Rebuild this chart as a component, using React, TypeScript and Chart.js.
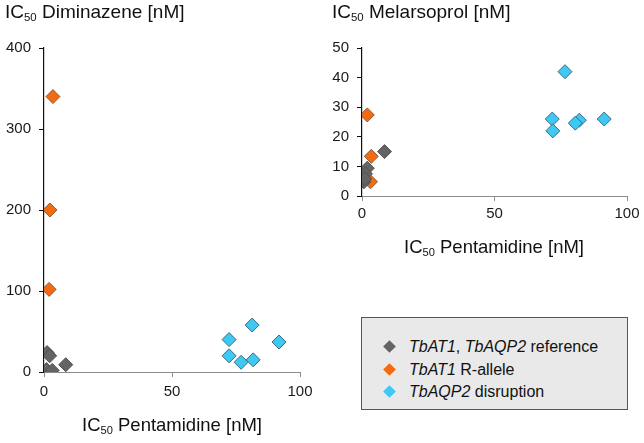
import React, { useEffect, useRef } from "react";
import { Chart, registerables } from "chart.js";

Chart.register(...registerables);

// ---- Data (IC50 values, nM) ----
// Diminazene vs Pentamidine
const dimRefPent = [1.2, 2.2, 1.0, 3.2, 8.5];
const dimRefDim = [24, 20, 3, 2, 9];
const dimRallelePent = [3.5, 2.3, 2.0];
const dimRalleleDim = [340, 200, 102];
const dimAqp2Pent = [81.3, 72.3, 91.8, 72.3, 77.0, 81.7];
const dimAqp2Dim = [58, 40, 37, 20, 12, 15];

// Melarsoprol vs Pentamidine
const melRefPent = [8.5, 2.0, 1.3, 0.7, 1.0];
const melRefMel = [15, 9.4, 7.5, 4.8, 5.8];
const melRallelePent = [2.0, 3.5, 3.2];
const melRalleleMel = [27.4, 13.4, 4.8];
const melAqp2Pent = [76.6, 71.8, 72.0, 82.0, 80.5, 91.4];
const melAqp2Mel = [42, 26, 22, 25.6, 24.6, 26];

const xTicks = [0, 50, 100];
const dimTicks = [0, 100, 200, 300, 400];
const melTicks = [0, 10, 20, 30, 40, 50];

const seriesLabels = ["TbAT1, TbAQP2 reference", "TbAT1 R-allele", "TbAQP2 disruption"];
const COLORS = [
  { fill: "#646464", border: "#505050" },
  { fill: "#f46a12", border: "#8a5a3a" },
  { fill: "#3ec8f2", border: "#386c82" },
];

const FONT = "'Liberation Sans', Arial, Helvetica, sans-serif";

function pts(xs: number[], ys: number[]) {
  return xs.map((x, i) => ({ x, y: ys[i] }));
}

function makeConfig(
  sets: { x: number[]; y: number[] }[],
  yTicks: number[],
  yWidth: number,
  xHeight: number,
  padRight: number,
  xPad: number
): any {
  const yMax = yTicks[yTicks.length - 1];
  return {
    type: "scatter",
    data: {
      datasets: sets.map((s, i) => ({
        label: seriesLabels[i],
        data: pts(s.x, s.y),
        pointStyle: "rectRot",
        pointRadius: 7,
        pointBackgroundColor: COLORS[i].fill,
        pointBorderColor: COLORS[i].border,
        pointBorderWidth: 1,
      })),
    },
    options: {
      responsive: false,
      animation: false,
      devicePixelRatio: 1,
      layout: { padding: { top: 48, right: padRight, left: 0, bottom: 0 } },
      plugins: { legend: { display: false }, tooltip: { enabled: false } },
      scales: {
        x: {
          type: "linear",
          min: xTicks[0],
          max: xTicks[xTicks.length - 1],
          afterBuildTicks: (s: any) => {
            s.ticks = xTicks.map((v) => ({ value: v }));
          },
          afterFit: (s: any) => {
            s.height = xHeight;
          },
          border: { display: true, color: "#8c8c8c", width: 1 },
          grid: { drawOnChartArea: false, drawTicks: true, tickLength: 5, color: "#8c8c8c" },
          ticks: { color: "#1a1a1a", font: { family: FONT, size: 15 }, padding: xPad, maxRotation: 0 },
        },
        y: {
          type: "linear",
          min: yTicks[0],
          max: yMax,
          afterBuildTicks: (s: any) => {
            s.ticks = yTicks.map((v) => ({ value: v }));
          },
          afterFit: (s: any) => {
            s.width = yWidth;
          },
          border: { display: true, color: "#111", width: 1.2 },
          grid: { drawOnChartArea: false, drawTicks: true, tickLength: 5, color: "#111" },
          ticks: { color: "#1a1a1a", font: { family: FONT, size: 15 }, padding: 8 },
        },
      },
    },
  };
}

function ChartCanvas(props: { config: any; left: number; top: number; width: number; height: number }) {
  const ref = useRef<HTMLCanvasElement | null>(null);
  useEffect(() => {
    if (!ref.current) return;
    const chart = new Chart(ref.current, props.config);
    return () => chart.destroy();
  }, []);
  return (
    <canvas
      ref={ref}
      width={props.width}
      height={props.height}
      style={{ position: "absolute", left: props.left, top: props.top, width: props.width, height: props.height }}
    />
  );
}

function IC50(props: { rest: string }) {
  return (
    <span>
      IC
      <span style={{ fontSize: "0.6em", position: "relative", top: "0.3em" }}>50</span> {props.rest}
    </span>
  );
}

function Diamond(props: { color: string }) {
  return (
    <span
      style={{
        display: "inline-block",
        width: 9,
        height: 9,
        background: props.color,
        transform: "rotate(45deg)",
        position: "absolute",
        left: 23,
        top: 6,
      }}
    />
  );
}

export default function App() {
  const leftCfg = makeConfig(
    [
      { x: dimRefPent, y: dimRefDim },
      { x: dimRallelePent, y: dimRalleleDim },
      { x: dimAqp2Pent, y: dimAqp2Dim },
    ],
    dimTicks,
    44,
    71,
    20,
    6
  );
  const rightCfg = makeConfig(
    [
      { x: melRefPent, y: melRefMel },
      { x: melRallelePent, y: melRalleleMel },
      { x: melAqp2Pent, y: melAqp2Mel },
    ],
    melTicks,
    42,
    64,
    17,
    4
  );

  const titleStyle: React.CSSProperties = {
    position: "absolute",
    fontFamily: FONT,
    fontSize: 19,
    lineHeight: "20px",
    color: "#111",
    whiteSpace: "nowrap",
  };
  const axisTitleStyle: React.CSSProperties = {
    position: "absolute",
    fontFamily: FONT,
    fontSize: 18.5,
    lineHeight: "20px",
    color: "#111",
    whiteSpace: "nowrap",
    transform: "translateX(-50%)",
  };
  const legendItem: React.CSSProperties = {
    position: "relative",
    height: 22.5,
    lineHeight: "22px",
    paddingLeft: 47,
    whiteSpace: "nowrap",
  };

  return (
    <div style={{ position: "fixed", left: 0, top: 0, width: 644, height: 443, background: "#fff", overflow: "hidden" }}>
      <ChartCanvas config={leftCfg} left={0} top={0} width={320} height={443} />
      <ChartCanvas config={rightCfg} left={320} top={0} width={324} height={260} />

      <div style={{ ...titleStyle, left: 5, top: 2 }}>
        <IC50 rest="Diminazene [nM]" />
      </div>
      <div style={{ ...titleStyle, left: 332, top: 2 }}>
        <IC50 rest="Melarsoprol [nM]" />
      </div>
      <div style={{ ...axisTitleStyle, left: 172, top: 415 }}>
        <IC50 rest="Pentamidine [nM]" />
      </div>
      <div style={{ ...axisTitleStyle, left: 494, top: 237 }}>
        <IC50 rest="Pentamidine [nM]" />
      </div>

      <div
        style={{
          position: "absolute",
          left: 361,
          top: 317,
          width: 265,
          height: 91,
          background: "#e9e9e9",
          border: "1px solid #555",
          fontFamily: FONT,
          fontSize: 16,
          color: "#111",
          boxSizing: "content-box",
        }}
      >
        <div style={{ position: "absolute", left: 0, top: 18, width: "100%" }}>
          <div style={legendItem}>
            <Diamond color={COLORS[0].fill} />
            <i>TbAT1</i>, <i>TbAQP2</i> reference
          </div>
          <div style={legendItem}>
            <Diamond color={COLORS[1].fill} />
            <i>TbAT1</i> R-allele
          </div>
          <div style={legendItem}>
            <Diamond color={COLORS[2].fill} />
            <i>TbAQP2</i> disruption
          </div>
        </div>
      </div>
    </div>
  );
}
